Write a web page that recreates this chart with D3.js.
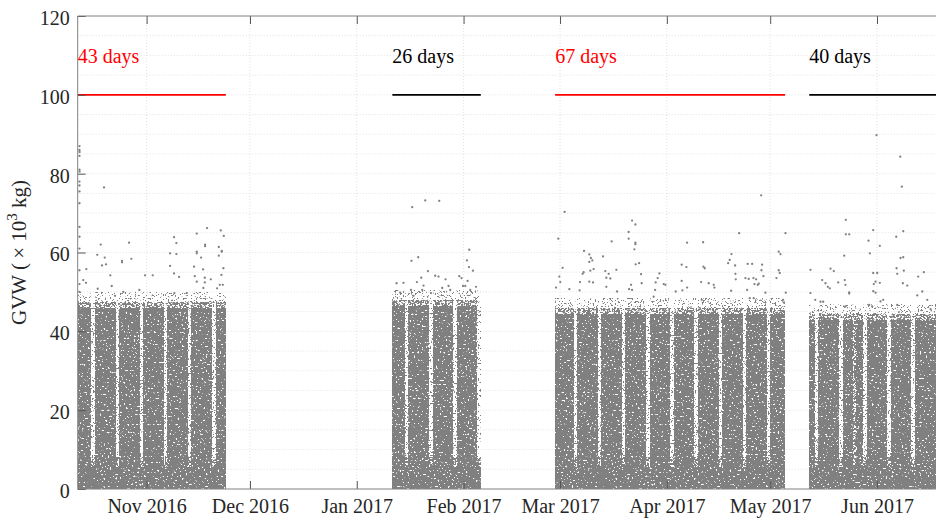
<!DOCTYPE html>
<html><head><meta charset="utf-8">
<script src="https://cdn.jsdelivr.net/npm/d3@7"></script>
<style>
body{margin:0;background:#fff}
svg{display:block}
text{font-family:"Liberation Serif","Times New Roman",serif}
</style>
</head><body>
<svg id="c" width="936" height="521"></svg>
<script>
// ---------------- DATA ----------------
// Monitoring periods (UTC)
const segStart = ["2016-10-12T00:00Z", "2017-01-11T08:00Z", "2017-02-27T14:00Z", "2017-05-12T08:00Z"];
const segEnd   = ["2016-11-24T00:00Z", "2017-02-06T00:00Z", "2017-05-05T08:00Z", "2017-06-21T08:00Z"];
const segFirstDay = ["2016-10-12", "2017-01-11", "2017-02-27", "2017-05-12"];
const segLabels = ["43 days", "26 days", "67 days", "40 days"];
// upper edge of the dense body of GVW records (x10^3 kg)
const segBulkTop = [47.5, 48, 46, 44.5];
// relative daily traffic density, one value per calendar day (Sundays sparse)
const density1 = [1,1,1,1,0.3, 1,1,1,1,1,1,0.3, 1,1,1,1,1,1,0.3, 1,1,1,1,1,1,0.3, 1,1,1,1,1,1,0.3, 1,1,1,1,1,1,0.3, 1,1,1];
const density2 = [1,0.8,1,1,0.3, 1,1,1,1,1,1,0.3, 1,1,1,1,1,1,0.3, 1,1,1,1,1,1,0.3];
const density3 = [1,1,1,1,1,1,0.3, 1,1,1,1,1,1,0.3, 1,1,1,1,1,1,0.3, 1,1,1,1,1,1,0.3, 1,1,1,1,1,1,0.3,
                  1,1,1,1,1,1,0.3, 1,1,1,1,1,1,0.3, 1,1,1,1,1,1,0.3, 1,1,1,1,1,1,0.3, 1,1,1,1,1];
const density4 = [1,1,0.3, 1,1,1,1,1,1,0.3, 1,1,1,0.6,1,1,0.3, 1,1,1,1,1,1,0.3, 1,1,1,1,1,1,0.3, 1,1,1,1,1,1,0.3, 1,1,1];
const segDensity = [density1, density2, density3, density4];

// individual heavy records above the dense body: [days since 2016-10-12, GVW]
const outliers1 = [[0.52,87],[0.52,86],[0.55,85.5],[0.52,84.5],[0.52,81],[0.55,80.5],[0.52,78],[0.52,77],[0.52,75.5],[0.52,72.5],[0.52,66.5],[0.52,64],[0.52,61],[0.52,55.5],[0.52,52],[0.52,50],
 [7.64,76.5],[6.68,62],[5.69,59.4],[2.50,55.8],[1.63,53],[7.06,56.7],[7.84,58.7],[8.22,57],[9.47,54.2],[9.88,51.5],[5.81,50.8],[2.41,52.3],[12.87,57.9],[12.87,57.5],[14.90,62.5],[15.57,58.4],[19.55,54.2],[21.78,54.2],[17.89,50.5],[13.24,50],[10.83,49],
 [27.97,63.9],[28.64,62.4],[28.64,59.6],[26.81,59.8],[26.81,56.6],[27.97,54.7],[29.42,53.8],[34.56,64.8],[37.55,66.2],[41.53,65.6],[42.40,64.2],[34.56,60.2],[34.56,59.8],[36.97,62],[36.97,61.6],[40.95,61.4],[41.82,60.4],[41.82,60.2],[40.95,59.2],[35.81,58.7],[33.78,56.4],[36.39,55.7],[36.89,53.6],[36.89,52.4],[38.63,53.2],[42.29,56],[41.71,54.3],[41.24,51.8],[42.11,51.8],[40.46,50.9],[33.98,54],[34.56,52.6],[36.48,51],[28.06,49.7],[31.66,49.7]];
const outliers2 = [[100.87,73.2],[104.94,73.1],[97.10,71.5],[96.89,57.9],[98.84,58.8],[101.66,55.3],[113.65,60.7],[112.98,58],[113.56,56.3],[114.72,55.4],[92.54,52.2],[94.57,52.3],[99.71,53.6],[98.46,52.5],[100.38,51.6],[103.77,54.1],[104.73,53.9],[106.77,53.2],[107.64,51.5],[105.81,51],[110.75,54],[111.42,53.5],[111.82,51.5],[112.49,51.5],[113.16,52.8],[115.60,51.3],[96.72,50.5],[93.61,49.8],[97.47,49],[100.0,50.5],[113.94,50.5],[102.53,49.7],[108.13,50.5]];
const outliers3 = [[141.33,70.3],[139.50,63.5],[160.91,68.1],[161.87,67.1],[159.92,65.2],[159.92,63.5],[161.87,62.5],[161.87,62.1],[161.58,60.8],[154.98,62.8],[176.88,62.5],[181.53,62.6],[191.98,64.9],[146.96,60.4],[148.50,59.5],[148.94,58.6],[149.38,58],[148.50,57.6],[149.75,55.8],[148.79,55.4],[146.85,55],[146.56,54.6],[148.50,52.6],[149.58,52.4],[152.48,59],[153.15,55.3],[154.11,54.6],[154.60,53.4],[153.44,53.6],[156.35,55.6],[153.44,51.3],[156.55,50.1],
 [162.94,57.3],[161.95,57],[163.52,54.5],[160.62,51.8],[160.04,50.7],[160.91,50.5],[163.69,52.2],[168.84,54.7],[168.34,53.5],[167.76,52.4],[170.58,51.8],[170.09,52],[167.59,50.5],[167.18,48.8],[175.31,56.9],[176.68,56.3],[175.31,52.8],[176.88,51.1],[175.51,50.4],[173.57,50.1],[181.62,56.4],[181.99,56],[180.95,52.5],[183.15,52.2],[184.61,51.8],[184.81,51.1],[181.12,48],[189.25,58.1],[188.79,57.3],[189.75,59.6],[190.82,56.7],[190.91,54.6],[191.00,53.2],[189.66,50.3],
 [145.80,52.5],[145.69,50.4],[142.70,50.7],[140.75,56.1],[139.79,53.9],[138.83,51.1],[140.08,52.5],[198.37,74.5],[205.43,64.9],[203.48,60.2],[203.98,59.6],[203.48,55.5],[203.77,54.8],[202.81,53.5],[205.52,49.8],[204.76,48],[204.94,47.3],[194.48,57.1],[195.76,57.1],[198.66,56.9],[198.46,55.5],[199.04,54],[193.81,53.5],[194.77,53.3],[196.14,53.5],[196.92,53.2],[196.43,52],[197.39,51.8],[197.68,52.1],[194.31,50.5],[199.62,49.8],[196.23,48.4],[195.06,48.4]];
const outliers4 = [[231.86,89.8],[238.75,84.3],[239.21,76.7],[239.62,65.4],[237.58,64],[230.90,65.7],[229.54,63],[232.82,61.7],[229.92,59.8],[222.95,68.3],[222.95,64.6],[223.93,64.6],[222.48,59.2],[212.69,55.6],[218.50,55.9],[219.46,55.3],[216.09,53],[217.05,52.2],[217.72,51.3],[218.30,50.9],[215.60,47.5],[216.38,47.5],[220.74,52.4],[222.65,53],[222.85,51.8],[223.93,49.9],[223.93,49.6],[222.85,46.3],
 [230.90,54.8],[232.06,54.8],[231.57,52.6],[232.82,52.3],[231.08,52.0],[230.90,50.2],[231.57,49.8],[233.80,48],[233.02,47.6],[229.73,46.7],[230.60,46.3],[237.67,56],[237.87,54.6],[238.83,58.6],[239.62,58.8],[239.79,55.4],[239.50,52.2],[240.78,51.6],[237.87,46.7],[245.60,55],[243.97,53.9],[245.14,50.1],[243.69,49.1],[246.59,48],[247.55,45.6],[214.08,48],[212.69,49.7]];
const outlierOrigin = "2016-10-12T00:00Z";

const xTickDates = ["2016-11-01","2016-12-01","2017-01-01","2017-02-01","2017-03-01","2017-04-01","2017-05-01","2017-06-01"];
const yTickValues = [0,20,40,60,80,100,120];
const durationLineGVW = 100;
const durationLabelGVW = 108;

// ---------------- STYLE / LAYOUT ----------------
const W = 936, H = 521;
const segColors = ["#ff0000", "#000000", "#ff0000", "#000000"];
const pointColor = "#808080";
const fontSize = 20;

const svg = d3.select("#c");
const x = d3.scaleUtc()
  .domain([new Date("2016-10-12T00:00Z"), new Date("2017-06-01T00:00Z")])
  .range([77.7, 877]);
const y = d3.scaleLinear().domain([0, 120]).range([489, 16]);
const xL = x.range()[0];
const xR = x(new Date(segEnd[3]));
const yB = y(0), yT = y(120);

// speckle filters (texture of overlapping scatter dots)
const defs = svg.append("defs");
function addFilter(id, t, freq, seed) {
  const f = defs.append("filter").attr("id", id)
    .attr("filterUnits", "userSpaceOnUse").attr("x", 0).attr("y", 0)
    .attr("width", W + 40).attr("height", H)
    .attr("color-interpolation-filters", "sRGB");
  f.append("feTurbulence").attr("type", "fractalNoise").attr("baseFrequency", freq)
    .attr("numOctaves", 2).attr("seed", seed).attr("result", "n");
  f.append("feColorMatrix").attr("in", "n").attr("type", "matrix")
    .attr("values", "0 0 0 0 0  0 0 0 0 0  0 0 0 0 0  1 0 0 0 0").attr("result", "a");
  f.append("feComponentTransfer").attr("in", "a").attr("result", "m")
    .append("feFuncA").attr("type", "linear").attr("slope", 20).attr("intercept", -20 * t);
  f.append("feComposite").attr("in", "SourceGraphic").attr("in2", "m").attr("operator", "in");
}
addFilter("fH", 0.29, 0.5, 7);
addFilter("fM", 0.45, 0.55, 11);
addFilter("fL", 0.60, 0.6, 5);
addFilter("fX", 0.68, 0.6, 3);
defs.append("clipPath").attr("id", "plotClip").append("rect")
  .attr("x", xL).attr("y", yT).attr("width", xR - xL).attr("height", yB - yT);

// grid
const grid = svg.append("g").attr("stroke", "#d4d4d4").attr("stroke-width", 0.7)
  .attr("stroke-dasharray", "1,2");
grid.selectAll(".gy").data(d3.range(5, 120, 5)).join("line")
  .attr("x1", xL).attr("x2", xR).attr("y1", d => y(d)).attr("y2", d => y(d));
grid.selectAll(".gx").data(xTickDates).join("line")
  .attr("x1", d => x(new Date(d + "T00:00Z"))).attr("x2", d => x(new Date(d + "T00:00Z")))
  .attr("y1", yT).attr("y2", yB);

// density rectangles (zones overlap slightly so textures blend)
const rects = {H: [], M: [], L: [], X: []};
segDensity.forEach((arr, s) => {
  const s0 = new Date(segStart[s]), s1 = new Date(segEnd[s]);
  const d0 = new Date(segFirstDay[s] + "T00:00Z");
  const top = segBulkTop[s];
  arr.forEach((v, i) => {
    const a = d3.utcDay.offset(d0, i), b = d3.utcDay.offset(d0, i + 1);
    const t0 = a < s0 ? s0 : a, t1 = b > s1 ? s1 : b;
    if (t1 <= t0) return;
    let zones;
    if (v >= 0.8) {
      zones = [[0, top - 1.5, "H"], [top - 2.5, top, "M"], [top - 0.5, top + 2.5, "L"]];
    } else if (v >= 0.45) {
      zones = [[0, 6, "H"], [5.5, top, "M"], [top - 0.5, top + 2.5, "L"]];
    } else {
      zones = [[0, 5.5, "H"], [5, 8, "M"], [7.5, top, "L"], [top - 0.5, top + 2.5, "X"]];
    }
    zones.forEach(z => rects[z[2]].push({t0, t1, v0: z[0], v1: z[1]}));
  });
});
const dataG = svg.append("g").attr("clip-path", "url(#plotClip)");
["H", "M", "L", "X"].forEach(k => {
  dataG.append("g").attr("filter", `url(#f${k})`).attr("fill", pointColor)
    .attr("shape-rendering", "crispEdges")
    .selectAll("rect").data(rects[k]).join("rect")
    .attr("x", d => Math.round(x(d.t0)))
    .attr("width", d => Math.round(x(d.t1)) - Math.round(x(d.t0)))
    .attr("y", d => Math.round(y(d.v1)))
    .attr("height", d => Math.round(y(d.v0)) - Math.round(y(d.v1)));
});

// outlier points
const origin = new Date(outlierOrigin).getTime();
const allOut = [].concat(outliers1, outliers2, outliers3, outliers4);
dataG.append("g").attr("fill", pointColor).selectAll("circle").data(allOut).join("circle")
  .attr("cx", d => x(new Date(origin + d[0] * 864e5)))
  .attr("cy", d => y(d[1])).attr("r", 1.15);

// duration lines and labels
segLabels.forEach((lab, s) => {
  const a = x(new Date(segStart[s])), b = x(new Date(segEnd[s]));
  svg.append("line").attr("x1", a).attr("x2", b)
    .attr("y1", y(durationLineGVW)).attr("y2", y(durationLineGVW))
    .attr("stroke", segColors[s]).attr("stroke-width", 1.6);
  svg.append("text").attr("x", a).attr("y", y(durationLabelGVW))
    .attr("fill", segColors[s]).attr("font-size", fontSize).text(lab);
});

// axes
const frameColor = "#808080";
const xAxisB = d3.axisBottom(x).tickValues(xTickDates.map(d => new Date(d + "T00:00Z")))
  .tickFormat(d3.utcFormat("%b %Y")).tickSizeInner(-8).tickSizeOuter(0).tickPadding(10);
const gxb = svg.append("g").attr("transform", `translate(0,${yB})`).call(xAxisB);
gxb.select(".domain").remove();
gxb.selectAll(".tick line").attr("stroke", "#555");
gxb.selectAll(".tick text").attr("font-size", fontSize).attr("fill", "#262626")
  .attr("font-family", "Liberation Serif, serif");

const xAxisT = d3.axisTop(x).tickValues(xTickDates.map(d => new Date(d + "T00:00Z")))
  .tickFormat("").tickSizeInner(-8).tickSizeOuter(0);
const gxt = svg.append("g").attr("transform", `translate(0,${yT})`).call(xAxisT);
gxt.select(".domain").remove();
gxt.selectAll(".tick line").attr("stroke", "#555");

const yAxis = d3.axisLeft(y).tickValues(yTickValues).tickSizeInner(-8).tickSizeOuter(0).tickPadding(8);
const gy = svg.append("g").attr("transform", `translate(${xL},0)`).call(yAxis);
gy.select(".domain").remove();
gy.selectAll(".tick line").attr("stroke", "#555");
gy.selectAll(".tick text").attr("font-size", fontSize).attr("fill", "#262626")
  .attr("dy", "0.42em").attr("font-family", "Liberation Serif, serif");

// frame
svg.append("path")
  .attr("d", `M${xR},${yT}H${xL}V${yB}H${xR}`)
  .attr("fill", "none").attr("stroke", frameColor).attr("stroke-width", 1);

// y label
const yl = svg.append("text").attr("transform", `translate(26,${(yT + yB) / 2}) rotate(-90)`)
  .attr("text-anchor", "middle").attr("font-size", 21).attr("fill", "#262626");
yl.append("tspan").text("GVW (\u2009\u00d7 10");
yl.append("tspan").attr("font-size", 15).attr("dy", -9).text("3");
yl.append("tspan").attr("dy", 9).text(" kg)");
</script>
</body></html>
